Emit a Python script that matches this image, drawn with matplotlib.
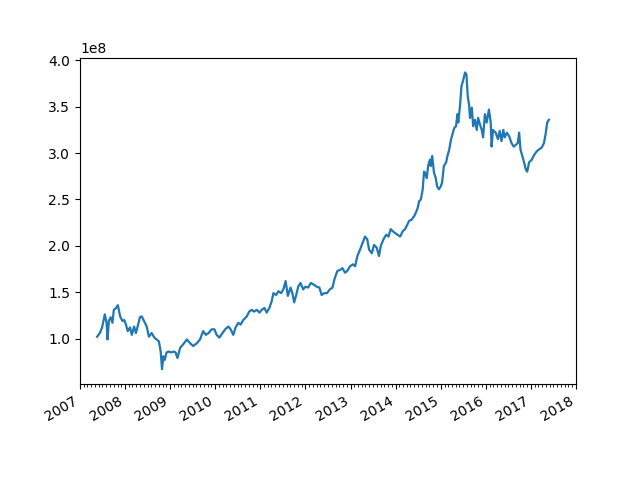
import matplotlib
matplotlib.use("Agg")
import matplotlib.pyplot as plt
import matplotlib.dates as mdates
import pandas as pd

# time positions in decimal years, values in units of 1e8
years = [
    2007.38, 2007.44, 2007.49, 2007.55, 2007.59, 2007.61, 2007.64, 2007.68, 2007.72, 2007.75,
    2007.80, 2007.84, 2007.89, 2007.94, 2007.98, 2008.02, 2008.06, 2008.11, 2008.15, 2008.20,
    2008.24, 2008.29, 2008.33, 2008.37, 2008.42, 2008.48, 2008.53, 2008.59, 2008.65, 2008.70,
    2008.75, 2008.79, 2008.82, 2008.85, 2008.88, 2008.92, 2008.97, 2009.02, 2009.07, 2009.12,
    2009.16, 2009.22, 2009.29, 2009.37, 2009.44, 2009.51, 2009.59, 2009.66, 2009.73, 2009.79,
    2009.85, 2009.92, 2009.98, 2010.03, 2010.09, 2010.16, 2010.22, 2010.29, 2010.34, 2010.40,
    2010.45, 2010.51, 2010.56, 2010.62, 2010.70, 2010.75, 2010.81, 2010.86, 2010.92, 2010.98,
    2011.03, 2011.09, 2011.14, 2011.20, 2011.25, 2011.29, 2011.35, 2011.40, 2011.46, 2011.51,
    2011.56, 2011.61, 2011.67, 2011.71, 2011.75, 2011.79, 2011.84, 2011.89, 2011.95, 2012.00,
    2012.06, 2012.12, 2012.19, 2012.25, 2012.31, 2012.36, 2012.42, 2012.48, 2012.54, 2012.60,
    2012.65, 2012.71, 2012.77, 2012.82, 2012.88, 2012.93, 2012.99, 2013.05, 2013.10, 2013.15,
    2013.21, 2013.28, 2013.32, 2013.37, 2013.41, 2013.47, 2013.52, 2013.58, 2013.63, 2013.67,
    2013.73, 2013.79, 2013.84, 2013.89, 2013.93, 2013.98, 2014.04, 2014.10, 2014.16, 2014.21,
    2014.26, 2014.30, 2014.35, 2014.41, 2014.45, 2014.49, 2014.52, 2014.56, 2014.60, 2014.63,
    2014.65, 2014.69, 2014.72, 2014.76, 2014.78, 2014.81, 2014.85, 2014.89, 2014.92, 2014.96,
    2015.00, 2015.03, 2015.07, 2015.12, 2015.15, 2015.19, 2015.23, 2015.26, 2015.30, 2015.34,
    2015.37, 2015.39, 2015.43, 2015.46, 2015.50, 2015.54, 2015.57, 2015.60, 2015.63, 2015.65,
    2015.69, 2015.72, 2015.76, 2015.80, 2015.83, 2015.87, 2015.91, 2015.94, 2015.98, 2016.02,
    2016.07, 2016.11, 2016.13, 2016.16, 2016.22, 2016.27, 2016.31, 2016.35, 2016.39, 2016.42,
    2016.47, 2016.52, 2016.57, 2016.62, 2016.67, 2016.71, 2016.74, 2016.77, 2016.81, 2016.85,
    2016.89, 2016.92, 2016.96, 2017.02, 2017.07, 2017.13, 2017.18, 2017.24, 2017.29, 2017.33,
    2017.36, 2017.40,
]
value_1e8 = [
    1.02, 1.06, 1.12, 1.26, 1.17, 0.99, 1.19, 1.23, 1.17, 1.31,
    1.33, 1.36, 1.24, 1.19, 1.20, 1.15, 1.08, 1.12, 1.04, 1.13,
    1.06, 1.15, 1.23, 1.24, 1.19, 1.13, 1.02, 1.06, 1.01, 0.99,
    0.97, 0.86, 0.67, 0.81, 0.77, 0.85, 0.86, 0.85, 0.86, 0.85,
    0.79, 0.90, 0.94, 0.99, 0.95, 0.92, 0.95, 0.99, 1.08, 1.04,
    1.06, 1.10, 1.10, 1.04, 1.01, 1.06, 1.10, 1.13, 1.10, 1.04,
    1.12, 1.17, 1.15, 1.20, 1.24, 1.29, 1.31, 1.29, 1.31, 1.28,
    1.31, 1.33, 1.28, 1.33, 1.40, 1.49, 1.47, 1.51, 1.49, 1.53,
    1.62, 1.46, 1.55, 1.49, 1.39, 1.46, 1.56, 1.60, 1.53, 1.56,
    1.55, 1.60, 1.58, 1.56, 1.55, 1.47, 1.49, 1.49, 1.53, 1.55,
    1.65, 1.73, 1.74, 1.76, 1.71, 1.73, 1.78, 1.80, 1.78, 1.89,
    1.96, 2.05, 2.10, 2.07, 1.96, 1.92, 2.01, 1.98, 1.89, 2.00,
    2.07, 2.12, 2.10, 2.18, 2.16, 2.14, 2.12, 2.10, 2.16, 2.18,
    2.23, 2.27, 2.28, 2.32, 2.36, 2.41, 2.48, 2.50, 2.61, 2.80,
    2.79, 2.73, 2.86, 2.93, 2.86, 2.97, 2.79, 2.73, 2.64, 2.61,
    2.64, 2.68, 2.86, 2.90, 2.97, 3.04, 3.15, 3.20, 3.27, 3.29,
    3.42, 3.33, 3.52, 3.72, 3.79, 3.87, 3.85, 3.61, 3.52, 3.38,
    3.49, 3.29, 3.36, 3.25, 3.38, 3.31, 3.25, 3.17, 3.42, 3.33,
    3.47, 3.33, 3.07, 3.25, 3.22, 3.15, 3.24, 3.13, 3.25, 3.17,
    3.22, 3.18, 3.11, 3.07, 3.09, 3.11, 3.22, 3.04, 2.97, 2.90,
    2.82, 2.80, 2.90, 2.93, 2.98, 3.02, 3.04, 3.06, 3.11, 3.22,
    3.33, 3.36,
]

dates = [pd.Timestamp(int(y), 1, 1) + pd.Timedelta(days=(y - int(y)) * 365.25) for y in years]
values = [v * 1e8 for v in value_1e8]

fig, ax = plt.subplots(figsize=(6.4, 4.8), dpi=100)
ax.plot(dates, values, color="#1f77b4", linewidth=1.6)

ax.set_xlim(pd.Timestamp(2007, 1, 1), pd.Timestamp(2018, 1, 1))
ax.xaxis.set_major_locator(mdates.YearLocator())
ax.xaxis.set_minor_locator(mdates.MonthLocator())
ax.xaxis.set_major_formatter(mdates.DateFormatter("%Y"))
fig.autofmt_xdate()

fig.savefig("out.png", dpi=100)
